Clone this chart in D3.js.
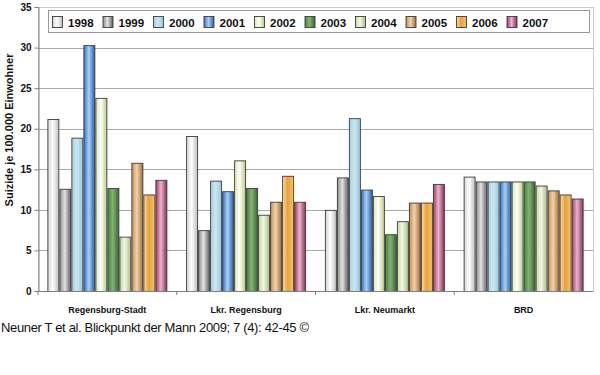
<!DOCTYPE html>
<html>
<head>
<meta charset="utf-8">
<script src="https://cdn.jsdelivr.net/npm/d3@7"></script>
<style>
  body { margin: 0; background: #fff; }
  svg { display: block; font-family: "Liberation Sans", Arial, sans-serif; }
</style>
</head>
<body>
<svg id="chart"></svg>
<script>
var categories = ["Regensburg-Stadt", "Lkr. Regensburg", "Lkr. Neumarkt", "BRD"];
var years = ["1998", "1999", "2000", "2001", "2002", "2003", "2004", "2005", "2006", "2007"];

// one array per region, one value per year
var regensburgStadt = [21.2, 12.6, 18.9, 30.3, 23.8, 12.7, 6.7, 15.8, 11.9, 13.7];
var lkrRegensburg   = [19.1, 7.5, 13.6, 12.3, 16.1, 12.7, 9.4, 11.0, 14.2, 11.0];
var lkrNeumarkt     = [10.0, 14.0, 21.3, 12.5, 11.7, 7.0, 8.6, 10.9, 10.9, 13.2];
var brd             = [14.1, 13.5, 13.5, 13.5, 13.5, 13.5, 13.0, 12.4, 11.9, 11.4];
var yTicks = [0, 5, 10, 15, 20, 25, 30, 35];

var values = [regensburgStadt, lkrRegensburg, lkrNeumarkt, brd];

// left / highlight / right colour of each bar's shading
var shades = [
  ["#d4d4d4", "#ffffff", "#bdbdbd"],
  ["#8c8c8c", "#e2e2e2", "#5e5e5e"],
  ["#a4d0e2", "#cbe7f1", "#96c6da"],
  ["#3a6fc2", "#a4d2f8", "#2b5aa8"],
  ["#dbe8a8", "#ffffff", "#b6cc7c"],
  ["#4a8040", "#82b472", "#376630"],
  ["#c6d6a6", "#f2f7e4", "#a6bd86"],
  ["#c48c5a", "#f5d3a4", "#9e6e40"],
  ["#f9dcaa", "#eca232", "#f3c36a"],
  ["#a43a68", "#eab4cc", "#8c2e56"]
];

var W = 600, H = 375;
var plotL = 38, plotR = 593, plotT = 7, plotB = 291;

var svg = d3.select("#chart").attr("width", W).attr("height", H);

var defs = svg.append("defs");
years.forEach(function(yr, i) {
  var g = defs.append("linearGradient").attr("id", "g" + yr)
    .attr("x1", 0).attr("x2", 1).attr("y1", 0).attr("y2", 0);
  g.append("stop").attr("offset", "0%").attr("stop-color", shades[i][0]);
  g.append("stop").attr("offset", "45%").attr("stop-color", shades[i][1]);
  g.append("stop").attr("offset", "100%").attr("stop-color", shades[i][2]);
});

var y = d3.scaleLinear().domain([0, 35]).range([plotB, plotT]);
var x0 = d3.scaleBand().domain(categories).range([plotL, plotR])
  .paddingInner(0.135).paddingOuter(0.0675);
var x1 = d3.scaleBand().domain(years).range([0, x0.bandwidth()]);

// plot frame
svg.append("rect")
  .attr("x", plotL + 0.5).attr("y", plotT + 0.5)
  .attr("width", plotR - plotL).attr("height", plotB - plotT)
  .attr("fill", "none").attr("stroke", "#cccccc");

// grid
svg.append("g").selectAll("line")
  .data(yTicks.filter(function(d) { return d > 0 && d < 35; }))
  .enter().append("line")
  .attr("x1", plotL).attr("x2", plotR)
  .attr("y1", function(d) { return Math.round(y(d)) + 0.5; })
  .attr("y2", function(d) { return Math.round(y(d)) + 0.5; })
  .attr("stroke", "#a8a8a8");

// y axis
var yAxis = svg.append("g")
  .attr("transform", "translate(" + (plotL + 0.5) + ",0)")
  .call(d3.axisLeft(y).tickValues(yTicks).tickSize(4).tickPadding(3));
yAxis.select(".domain").attr("stroke", "#808080");
yAxis.selectAll(".tick line").attr("stroke", "#808080");
yAxis.selectAll("text").attr("font-size", 10).attr("font-weight", "bold")
  .attr("font-family", "Liberation Sans, Arial, sans-serif").attr("fill", "#111");

// bars
var groups = svg.append("g").selectAll("g")
  .data(categories).enter().append("g")
  .attr("transform", function(d) { return "translate(" + x0(d) + ",0)"; });

groups.selectAll("rect")
  .data(function(d, ci) { return years.map(function(yr, i) { return { year: yr, v: values[ci][i] }; }); })
  .enter().append("rect")
  .attr("x", function(d) { return x1(d.year) + 0.5; })
  .attr("y", function(d) { return y(d.v) + 0.5; })
  .attr("width", x1.bandwidth() - 1)
  .attr("height", function(d) { return plotB - y(d.v); })
  .attr("fill", function(d) { return "url(#g" + d.year + ")"; })
  .attr("stroke", "#3c3c3c")
  .attr("stroke-width", 0.9);

// x axis
var xAxis = svg.append("g")
  .attr("transform", "translate(0," + plotB + ")");
xAxis.append("line").attr("x1", plotL).attr("x2", plotR)
  .attr("y1", 0.5).attr("y2", 0.5).attr("stroke", "#808080");
xAxis.selectAll(".sep").data(categories).enter().append("line")
  .attr("x1", function(d) { return x0(d) - x0.step() * x0.paddingInner() / 2; })
  .attr("x2", function(d) { return x0(d) - x0.step() * x0.paddingInner() / 2; })
  .attr("y1", 0).attr("y2", 4).attr("stroke", "#808080");
xAxis.selectAll("text").data(categories).enter().append("text")
  .attr("x", function(d) { return x0(d) + x0.bandwidth() / 2; })
  .attr("y", 22)
  .attr("text-anchor", "middle")
  .attr("font-size", 9).attr("font-weight", "bold")
  .attr("fill", "#111")
  .text(function(d) { return d; });

// y label
svg.append("text")
  .attr("transform", "translate(13,130) rotate(-90)")
  .attr("text-anchor", "middle")
  .attr("font-size", 11).attr("font-weight", "bold")
  .attr("fill", "#111")
  .text("Suizide je 100.000 Einwohner");

// legend
var legend = svg.append("g");
legend.append("rect")
  .attr("x", 48.5).attr("y", 10.5).attr("width", 541).attr("height", 22)
  .attr("fill", "#fff").attr("stroke", "#9a9a9a");
var lx = d3.scalePoint().domain(years).range([52, 506.5]);
var items = legend.selectAll(".item").data(years).enter().append("g")
  .attr("transform", function(d) { return "translate(" + lx(d) + ",15)"; });
items.append("rect")
  .attr("x", 0.5).attr("y", 1.5).attr("width", 10).attr("height", 11)
  .attr("fill", function(d) { return "url(#g" + d + ")"; })
  .attr("stroke", "#3c3c3c").attr("stroke-width", 0.9);
items.append("text")
  .attr("x", 16).attr("y", 11.5)
  .attr("font-size", 11.5).attr("font-weight", "bold")
  .attr("fill", "#111")
  .text(function(d) { return d; });

// source line
svg.append("text")
  .attr("x", 1).attr("y", 332)
  .attr("font-size", 13)
  .attr("fill", "#111")
  .attr("textLength", 308).attr("lengthAdjust", "spacing")
  .text("Neuner T et al. Blickpunkt der Mann 2009; 7 (4): 42-45 \u00a9");
</script>
</body>
</html>
